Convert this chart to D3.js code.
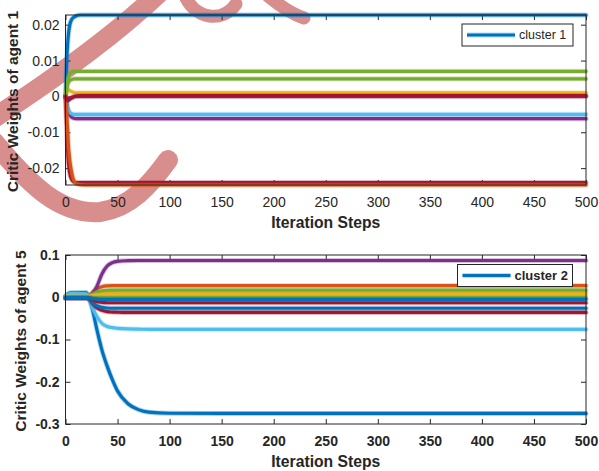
<!DOCTYPE html>
<html>
<head>
<meta charset="utf-8">
<script src="https://cdn.jsdelivr.net/npm/d3@7/dist/d3.min.js"></script>
<style>
  html, body { margin: 0; padding: 0; background: #fff; }
  svg { display: block; }
  text { font-family: "Liberation Sans", Arial, Helvetica, sans-serif; fill: #262626; }
</style>
</head>
<body>
<svg id="chart" width="599" height="471"></svg>
<script>
// ---------------- data ----------------
// Shared x ticks (iteration steps)
const xTicks = [0, 50, 100, 150, 200, 250, 300, 350, 400, 450, 500];

// Agent 1: sampled iteration steps and critic weights
const stepsAgent1 = [0, 1, 2, 3, 4, 6, 8, 10, 14, 20, 500];
const a1Blue      = [0, 0.0090, 0.0145, 0.0178, 0.0198, 0.0215, 0.0221, 0.0224, 0.0227, 0.0227, 0.0227];
const a1Orange    = [0, -0.0040, -0.0095, -0.0145, -0.0175, -0.0213, -0.0235, -0.0243, -0.0246, -0.0247, -0.0247];
const a1Yellow    = [0, 0.0012, 0.0017, 0.0018, 0.0016, 0.0013, 0.0011, 0.0010, 0.0010, 0.0010, 0.0010];
const a1Purple    = [0, -0.0015, -0.0032, -0.0045, -0.0052, -0.0058, -0.0061, -0.0062, -0.0062, -0.0062, -0.0062];
const a1Green     = [0, 0.0025, 0.0045, 0.0057, 0.0063, 0.0068, 0.0070, 0.0070, 0.0070, 0.0070, 0.0070];
const a1LightBlue = [0, -0.0015, -0.0030, -0.0038, -0.0043, -0.0048, -0.0050, -0.0050, -0.0050, -0.0050, -0.0050];
const a1DarkRed   = [0, -0.0080, -0.0150, -0.0190, -0.0213, -0.0232, -0.0238, -0.0240, -0.0240, -0.0240, -0.0240];
const a1Purple2   = [0, -0.0008, -0.0012, -0.0011, -0.0008, -0.0004, -0.0001, 0, 0, 0, 0];
const a1Green2    = [0, 0.0018, 0.0032, 0.0040, 0.0044, 0.0047, 0.0049, 0.0049, 0.0049, 0.0049, 0.0049];
const a1DarkRed2  = [0, -0.0006, -0.0009, -0.0008, -0.0006, -0.0003, -0.0001, 0.0001, 0.0002, 0.0002, 0.0002];
const seriesAgent1 = [a1Blue, a1Yellow, a1Purple, a1Green, a1LightBlue, a1DarkRed, a1Orange, a1Purple2, a1Green2, a1DarkRed2];
const yTicksAgent1 = [-0.02, -0.01, 0, 0.01, 0.02];
const yTickLabelsAgent1 = ["-0.02", "-0.01", "0", "0.01", "0.02"];

// Agent 5: sampled iteration steps and critic weights
const stepsAgent5 = [0, 3, 6, 10, 20, 23, 26, 30, 35, 40, 45, 50, 60, 70, 80, 100, 150, 500];
const a5Blue      = [0.003, 0.009, 0.011, 0.011, 0.011, -0.004, -0.030, -0.075, -0.125, -0.163, -0.195, -0.222, -0.252, -0.266, -0.272, -0.2745, -0.275, -0.275];
const a5Orange    = [0.002, 0.002, 0.002, 0.002, 0.002, 0.004, 0.012, 0.020, 0.025, 0.027, 0.0275, 0.0275, 0.0275, 0.0275, 0.0275, 0.0275, 0.0275, 0.0275];
const a5Yellow    = [0.003, 0.003, 0.003, 0.003, 0.003, 0.004, 0.007, 0.0095, 0.011, 0.012, 0.012, 0.012, 0.012, 0.012, 0.012, 0.012, 0.012, 0.012];
const a5Purple    = [0, 0, 0, 0, 0, 0.001, 0.008, 0.025, 0.055, 0.074, 0.082, 0.085, 0.0865, 0.087, 0.087, 0.087, 0.087, 0.087];
const a5Green     = [0.001, 0.001, 0.001, 0.001, 0.001, 0.002, 0.007, 0.012, 0.015, 0.0165, 0.017, 0.0172, 0.0172, 0.0172, 0.0172, 0.0172, 0.0172, 0.0172];
const a5LightBlue = [0.002, 0.007, 0.009, 0.009, 0.008, -0.008, -0.025, -0.045, -0.062, -0.069, -0.072, -0.0735, -0.075, -0.0755, -0.076, -0.076, -0.076, -0.076];
const a5DarkRed   = [-0.003, -0.003, -0.003, -0.003, -0.003, -0.005, -0.015, -0.025, -0.031, -0.034, -0.035, -0.0355, -0.036, -0.036, -0.036, -0.036, -0.036, -0.036];
const a5Blue2     = [-0.002, -0.002, -0.002, -0.002, -0.002, -0.004, -0.013, -0.020, -0.024, -0.0255, -0.026, -0.026, -0.026, -0.026, -0.026, -0.026, -0.026, -0.026];
const a5Yellow2   = [0.002, 0.002, 0.002, 0.002, 0.002, 0.0025, 0.004, 0.005, 0.0058, 0.006, 0.006, 0.006, 0.006, 0.006, 0.006, 0.006, 0.006, 0.006];
const a5Green2    = [0, 0, 0, 0, 0, 0, -0.0005, -0.001, -0.001, -0.001, -0.001, -0.001, -0.001, -0.001, -0.001, -0.001, -0.001, -0.001];
const a5DarkRed2  = [-0.001, -0.001, -0.001, -0.001, -0.001, -0.002, -0.006, -0.010, -0.012, -0.013, -0.013, -0.013, -0.013, -0.013, -0.013, -0.013, -0.013, -0.013];
const a5Blue3     = [-0.001, -0.001, -0.001, -0.001, -0.001, -0.0015, -0.003, -0.004, -0.005, -0.005, -0.005, -0.005, -0.005, -0.005, -0.005, -0.005, -0.005, -0.005];
const seriesAgent5 = [a5Blue, a5Orange, a5Yellow, a5Purple, a5Green, a5LightBlue, a5DarkRed, a5Blue2, a5Yellow2, a5Green2, a5DarkRed2, a5Blue3];
const yTicksAgent5 = [-0.3, -0.2, -0.1, 0, 0.1];
const yTickLabelsAgent5 = ["-0.3", "-0.2", "-0.1", "0", "0.1"];

// ---------------- styling ----------------
const C = {
  blue: "#0072BD", orange: "#D95319", yellow: "#EDB120", purple: "#7E2F8E",
  green: "#77AC30", lightblue: "#4DBEEE", darkred: "#A2142F"
};
const colorsAgent1 = [C.blue, C.yellow, C.purple, C.green, C.lightblue, C.darkred, C.orange, C.purple, C.green, C.darkred];
const colorsAgent5 = [C.blue, C.orange, C.yellow, C.purple, C.green, C.lightblue, C.darkred, C.blue, C.yellow, C.green, C.darkred, C.blue];

const svg = d3.select("#chart");
const axisColor = "#262626";
const left = 65.5, right = 586;

// pink brush mark lying under the upper axes
const wm = svg.append("g").attr("fill", "none").attr("stroke", "#d98e8e")
  .attr("stroke-linecap", "round").attr("stroke-linejoin", "round");
wm.append("path").attr("d", "M158,-6 C120,30 60,75 -6,118").attr("stroke-width", 20);
wm.append("path").attr("d", "M-6,142 C30,185 60,215 100,212 C130,208 150,185 168,160").attr("stroke-width", 20);
wm.append("path").attr("d", "M186,-2 C196,18 222,24 236,4").attr("stroke-width", 13);
wm.append("path").attr("d", "M268,-4 C280,6 292,14 304,18").attr("stroke-width", 13);

const panels = [
  {
    steps: stepsAgent1, series: seriesAgent1, colors: colorsAgent1,
    yDomain: d3.extent(seriesAgent1.flat()),
    yTicks: yTicksAgent1, yTickLabels: yTickLabelsAgent1,
    ylabel: "Critic Weights of agent 1", legend: "cluster 1",
    top: 15, bottom: 185, tickWeight: "normal", legendWeight: "normal",
    ylabelX: 18, legendBox: [462, 24, 111, 22], legendFont: 12.5
  },
  {
    steps: stepsAgent5, series: seriesAgent5, colors: colorsAgent5,
    yDomain: [-0.3, 0.1],
    yTicks: yTicksAgent5, yTickLabels: yTickLabelsAgent5,
    ylabel: "Critic Weights of agent 5", legend: "cluster 2",
    top: 255, bottom: 424, tickWeight: "bold", legendWeight: "bold",
    ylabelX: 26, legendBox: [457.5, 264.5, 115, 22], legendFont: 13
  }
];

panels.forEach(p => {
  const x = d3.scaleLinear().domain([0, 500]).range([left, right]);
  const y = d3.scaleLinear().domain(p.yDomain).range([p.bottom, p.top]);
  const g = svg.append("g");

  // tick marks on all four sides, pointing inward
  const tickLen = 5;
  const ax = (gen, tr, labels) => {
    const a = g.append("g").attr("transform", tr).call(gen);
    a.select(".domain").remove();
    a.selectAll(".tick line").attr("stroke", axisColor);
    if (!labels) a.selectAll(".tick text").remove();
    return a;
  };
  const xb = ax(d3.axisBottom(x).tickValues(xTicks).tickSize(-tickLen).tickPadding(12).tickFormat(d3.format("d")),
     `translate(0,${p.bottom})`, true);
  xb.selectAll(".tick text").attr("font-size", 14).attr("font-weight", p.tickWeight)
    .attr("fill", axisColor).style("font-family", '"Liberation Sans", Arial, sans-serif');
  ax(d3.axisTop(x).tickValues(xTicks).tickSize(-tickLen), `translate(0,${p.top})`, false);
  const yl = ax(d3.axisLeft(y).tickValues(p.yTicks).tickSize(-tickLen).tickPadding(6)
       .tickFormat((d, i) => p.yTickLabels[i]), `translate(${left},0)`, true);
  yl.selectAll(".tick text").attr("font-size", 14).attr("font-weight", p.tickWeight)
    .attr("fill", axisColor).style("font-family", '"Liberation Sans", Arial, sans-serif');
  ax(d3.axisRight(y).tickValues(p.yTicks).tickSize(-tickLen), `translate(${right},0)`, false);

  // data lines
  const line = d3.line()
    .x((d, i) => x(p.steps[i]))
    .y(d => y(d))
    .curve(d3.curveMonotoneX);
  const lines = g.append("g").attr("fill", "none").attr("stroke-linejoin", "round").attr("stroke-linecap", "round");
  p.series.forEach((s, i) => {
    lines.append("path").attr("d", line(s)).attr("stroke", p.colors[i])
      .attr("stroke-width", 5).attr("stroke-opacity", 0.3);
    lines.append("path").attr("d", line(s)).attr("stroke", p.colors[i])
      .attr("stroke-width", 3.2);
  });

  // axes box
  g.append("rect").attr("x", left).attr("y", p.top)
    .attr("width", right - left).attr("height", p.bottom - p.top)
    .attr("fill", "none").attr("stroke", axisColor).attr("stroke-width", 1);

  // axis titles
  g.append("text").attr("x", (left + right) / 2).attr("y", p.bottom + 42.5)
    .attr("text-anchor", "middle").attr("font-size", 15.7).attr("font-weight", "bold")
    .text("Iteration Steps");
  g.append("text")
    .attr("transform", `translate(${p.ylabelX},${(p.top + p.bottom) / 2 + 1.5}) rotate(-90)`)
    .attr("text-anchor", "middle").attr("font-size", 15.5).attr("font-weight", "bold")
    .text(p.ylabel);

  // legend
  const [lx, ly, lw, lh] = p.legendBox;
  const lg = g.append("g");
  lg.append("rect").attr("x", lx).attr("y", ly).attr("width", lw).attr("height", lh)
    .attr("fill", "#fff").attr("stroke", axisColor).attr("stroke-width", 1);
  const my = ly + lh / 2;
  lg.append("line").attr("x1", lx + 5).attr("x2", lx + 53).attr("y1", my).attr("y2", my)
    .attr("stroke", C.lightblue).attr("stroke-opacity", 0.45).attr("stroke-width", 5);
  lg.append("line").attr("x1", lx + 5).attr("x2", lx + 53).attr("y1", my).attr("y2", my)
    .attr("stroke", C.blue).attr("stroke-width", 3.2);
  lg.append("text").attr("x", lx + 57).attr("y", my).attr("dy", "0.35em")
    .attr("font-size", p.legendFont).attr("font-weight", p.legendWeight).text(p.legend);
});
</script>
</body>
</html>
